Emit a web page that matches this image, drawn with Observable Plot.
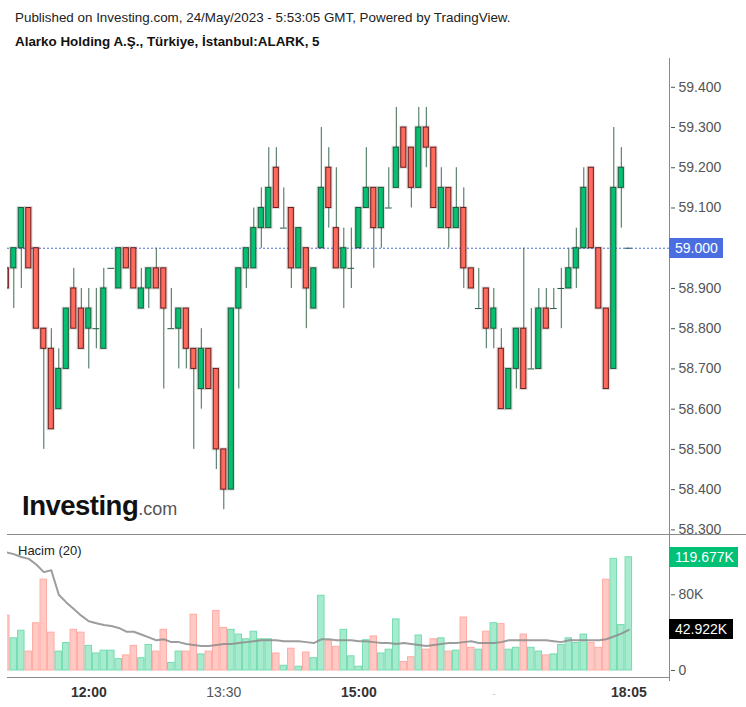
<!DOCTYPE html>
<html>
<head>
<meta charset="utf-8">
<script src="https://cdn.jsdelivr.net/npm/d3@7"></script>
<script src="https://cdn.jsdelivr.net/npm/@observablehq/plot@0.6"></script>
<style>
  html, body { margin: 0; padding: 0; background: #fff; }
  body { font-family: Arial, "Liberation Sans", sans-serif; }
  #wrap { position: relative; width: 746px; height: 707px; overflow: hidden; background: #fff; }
  .abs { position: absolute; }
  #t1 { left: 15px; top: 10px; font-size: 13.4px; color: #222; white-space: nowrap; }
  #t2 { left: 15px; top: 34px; font-size: 13.4px; font-weight: bold; color: #111; white-space: nowrap; }
  #price { left: 0; top: 55px; }
  #vol { left: 0; top: 535px; }
  .hline { background: #8a8a8a; height: 1px; }
  .vline { background: #8a8a8a; width: 1px; }
  .box { color: #fff; font-size: 14px; line-height: 20px; height: 20px; padding-left: 6px; white-space: nowrap; }
  #logo { left: 22px; top: 492px; line-height: 1; white-space: nowrap; }
  #logo .big { font-size: 27.5px; font-weight: bold; color: #111; letter-spacing: -0.5px; }
  #logo .small { font-size: 18px; color: #555; }
</style>
</head>
<body>
<div id="wrap">
  <div id="t1" class="abs">Published on Investing.com, 24/May/2023 - 5:53:05 GMT, Powered by TradingView.</div>
  <div id="t2" class="abs">Alarko Holding A.Ş., Türkiye, İstanbul:ALARK, 5</div>
</div>
<script>
// ---------- data ----------
const priceTicks = [58.3, 58.4, 58.5, 58.6, 58.7, 58.8, 58.9, 59.0, 59.1, 59.2, 59.3, 59.4];
const volTicks = [0, 80];
const xTickIdx = [11, 29, 47, 65, 83];
const xTickLabels = ["12:00", "13:30", "15:00", "-", "18:05"];
const xTickStyle = ["bold", "normal", "bold", "faint", "bold"];

const open  = [58.95,58.95,59.00,59.10,59.00,58.80,58.75,58.60,58.70,58.90,58.85,58.80,58.80,58.75,58.95,58.90,59.00,59.00,58.85,58.90,
               58.95,58.95,58.80,58.80,58.85,58.75,58.65,58.75,58.70,58.50,58.40,58.85,58.95,58.95,59.05,59.05,59.20,59.05,59.10,58.95,
               59.00,58.85,59.00,59.20,59.05,58.95,58.95,59.00,59.10,59.15,59.05,59.10,59.15,59.30,59.25,59.15,59.30,59.25,59.05,59.15,
               59.05,59.10,58.95,58.85,58.90,58.80,58.75,58.60,58.70,58.80,58.70,58.70,58.85,58.85,58.90,58.90,58.95,59.00,59.20,59.00,
               58.85,58.70,59.15,59.00];
const high  = [58.95,59.00,59.10,59.10,59.00,58.80,58.80,58.75,58.85,58.95,58.90,58.90,58.90,58.95,58.95,59.00,59.00,59.00,58.95,58.95,
               59.00,58.95,58.90,58.85,58.85,58.75,58.80,58.75,58.70,58.50,58.85,58.95,59.00,59.10,59.15,59.25,59.25,59.15,59.10,59.05,
               59.00,58.95,59.30,59.25,59.20,59.05,59.05,59.10,59.25,59.15,59.15,59.20,59.35,59.30,59.25,59.35,59.35,59.25,59.20,59.15,
               59.20,59.15,58.95,58.95,58.90,58.90,58.80,58.70,58.80,59.00,58.85,58.90,58.90,58.90,58.95,59.00,59.05,59.20,59.20,59.00,
               58.85,59.30,59.25,59.00];
const low   = [58.90,58.85,58.90,58.95,58.80,58.50,58.55,58.60,58.70,58.80,58.75,58.70,58.75,58.75,58.95,58.90,58.95,58.90,58.85,58.85,
               58.90,58.65,58.80,58.70,58.70,58.50,58.60,58.65,58.45,58.35,58.40,58.65,58.90,58.95,59.00,59.05,59.10,59.05,58.90,58.95,
               58.80,58.85,59.00,59.05,58.95,58.85,58.90,59.00,59.10,58.95,59.00,59.10,59.15,59.20,59.10,59.15,59.20,59.10,59.05,59.00,
               59.05,58.90,58.90,58.85,58.75,58.75,58.60,58.60,58.65,58.65,58.70,58.70,58.80,58.85,58.80,58.90,58.90,59.00,59.00,58.85,
               58.65,58.70,59.05,59.00];
const close = [58.90,59.00,59.10,58.95,58.80,58.75,58.55,58.70,58.85,58.80,58.75,58.85,58.80,58.90,58.95,59.00,58.95,58.90,58.90,58.95,
               58.90,58.85,58.80,58.85,58.75,58.70,58.75,58.65,58.50,58.40,58.85,58.95,59.00,59.05,59.10,59.15,59.10,59.05,58.95,59.05,
               58.90,58.95,59.15,59.10,58.95,59.00,58.95,59.10,59.15,59.05,59.15,59.10,59.25,59.20,59.15,59.30,59.25,59.10,59.15,59.05,
               59.10,58.95,58.90,58.85,58.80,58.85,58.60,58.70,58.80,58.65,58.70,58.85,58.80,58.85,58.90,58.95,59.00,59.15,59.00,58.85,
               58.65,59.15,59.20,59.00];
// volume in thousands
const volume = [58,34,42,20,50,96,40,20,29,43,40,26,18,21,21,12,16,26,13,27,
                20,43,8,20,20,59,17,20,63,45,43,38,33,41,33,33,18,5,23,4,
                19,13,79,31,25,43,15,4,32,36,18,22,54,9,14,37,22,33,34,20,
                21,56,24,22,41,50,49,22,24,38,24,20,16,17,27,34,29,38,29,24,
                96,118,48,119.677];
// volume moving average (20), thousands
const volMA = [125,123,120,118,112,104,106,80,72,65,58,52,50,48,47,45,41,41,38,35,
               32,33,30,30,28,27,26,26,27,28,28,29,30,31,32,32,32,31,31,31,
               30,29,33,33,32,32,32,31,31,30,29,29,28,29,28,27,26,27,28,29,
               29,30,31,29,29,29,30,32,32,32,32,32,32,31,30,32,32,32,32,32,
               33,36,39,42.922];
const lastPrice = 59.000;
const lastVolume = 119.677;
const lastMA = 42.922;

// ---------- build ----------
const candles = open.map((o, i) => ({
  i, o, h: high[i], l: low[i], c: close[i], v: volume[i], ma: volMA[i], up: close[i] >= o
}));
const bodies = candles.filter(d => d.o !== d.c);
const dojis = candles.filter(d => d.o === d.c);
const xDomain = [0.16, 88.56];
const font = 'Arial, "Liberation Sans", sans-serif';

const wrap = document.getElementById("wrap");

// the last-price tag replaces its own tick label on the axis
const axisPriceTicks = priceTicks.filter(t => Math.abs(t - lastPrice) > 1e-9);

const price = Plot.plot({
  width: 746, height: 480,
  marginLeft: 7, marginRight: 76, marginTop: 0, marginBottom: 0,
  x: { domain: xDomain, axis: null },
  y: { domain: [58.286, 59.479], axis: null },
  style: { fontFamily: font, fontSize: "14px", color: "#555", background: "transparent", overflow: "visible" },
  marks: [
    Plot.ruleY([lastPrice], { stroke: "#4a6ee0", strokeDasharray: "2,2", strokeWidth: 1 }),
    Plot.ruleX(candles, { x: "i", y1: "l", y2: "h", stroke: "#3d6b52", strokeWidth: 1, clip: true }),
    Plot.rect(bodies, { x1: d => d.i - 0.38, x2: d => d.i + 0.38, y1: "o", y2: "c",
      fill: "none", stroke: "#000", strokeOpacity: 0.12, strokeWidth: 3, clip: true }),
    Plot.rect(bodies, { x1: d => d.i - 0.34, x2: d => d.i + 0.34, y1: "o", y2: "c",
      fill: d => d.up ? "#05c072" : "#fe6a5c", stroke: d => d.up ? "#1b5a39" : "#6a1c1c", strokeWidth: 1, clip: true }),
    Plot.ruleY(dojis, { y: "c", x1: d => d.i - 0.45, x2: d => d.i + 0.45, stroke: "#1b5a39", strokeWidth: 1, clip: true }),
    Plot.axisY({ anchor: "right", ticks: axisPriceTicks, tickFormat: d => d.toFixed(3), tickSize: 4, tickPadding: 4, label: null })
  ]
});
price.id = "price"; price.classList.add("abs");
wrap.appendChild(price);

const boldIdx = xTickIdx.filter((d, k) => xTickStyle[k] === "bold");
const normIdx = xTickIdx.filter((d, k) => xTickStyle[k] === "normal");
const faintIdx = xTickIdx.filter((d, k) => xTickStyle[k] === "faint");
const lab = d => xTickLabels[xTickIdx.indexOf(d)];

const vol = Plot.plot({
  width: 746, height: 172,
  marginLeft: 7, marginRight: 76, marginTop: 0, marginBottom: 30,
  x: { domain: xDomain, axis: null },
  y: { domain: [-7.4, 142.7], axis: null },
  style: { fontFamily: font, fontSize: "14px", color: "#555", background: "transparent", overflow: "visible" },
  marks: [
    Plot.rect(candles, { x1: d => d.i - 0.5, x2: d => d.i + 0.5, y1: 0, y2: "v", insetLeft: 0.5, insetRight: 0.5,
      fill: d => d.up ? "#a7ebce" : "#ffcac5", stroke: d => d.up ? "#74dcb0" : "#ffaca4", strokeWidth: 1, clip: true }),
    Plot.line(candles, { x: "i", y: "ma", stroke: "#8c8c8c", strokeOpacity: 0.85, strokeWidth: 2, clip: true }),
    Plot.axisY({ anchor: "right", ticks: volTicks, tickFormat: d => d === 0 ? "0" : d + "K", tickSize: 4, tickPadding: 4, label: null }),
    Plot.axisX({ ticks: boldIdx, tickFormat: lab, tickSize: 0, tickPadding: 10, fontWeight: "bold", fill: "#333", label: null }),
    Plot.axisX({ ticks: normIdx, tickFormat: lab, tickSize: 0, tickPadding: 10, fill: "#555", label: null }),
    Plot.axisX({ ticks: faintIdx, tickFormat: lab, tickSize: 0, tickPadding: 12, fontSize: 10, fill: "#ccc", label: null })
  ]
});
vol.id = "vol"; vol.classList.add("abs");
wrap.appendChild(vol);

// frame lines
function addDiv(cls, css, html) {
  const el = document.createElement("div");
  el.className = "abs " + cls;
  Object.assign(el.style, css);
  if (html != null) el.innerHTML = html;
  wrap.appendChild(el);
  return el;
}
addDiv("vline", { left: "669px", top: "58px", height: "623px" });
addDiv("hline", { left: "7px", top: "534px", width: "739px" });
addDiv("hline", { left: "7px", top: "677px", width: "663px" });

// value labels positioned with the plots' scales
const yP = price.scale("y");
const yV = vol.scale("y");
const py = 55 + yP.apply(lastPrice);
addDiv("box", { left: "669px", top: (py - 10) + "px", width: "48px", background: "#4a6ee0" }, lastPrice.toFixed(3));
const vy = 535 + yV.apply(lastVolume);
addDiv("box", { left: "669px", top: (vy - 10) + "px", width: "63px", background: "#00c176" }, lastVolume.toFixed(3) + "K");
const my = 535 + yV.apply(lastMA);
addDiv("box", { left: "669px", top: (my - 10) + "px", width: "58px", background: "#000" }, lastMA.toFixed(3) + "K");

addDiv("", { left: "18px", top: "543px", fontSize: "13px", color: "#222" }, "Hacim (20)");
addDiv("", {}, '<span class="big">Investing</span><span class="small">.com</span>').id = "logo";
</script>
</body>
</html>
